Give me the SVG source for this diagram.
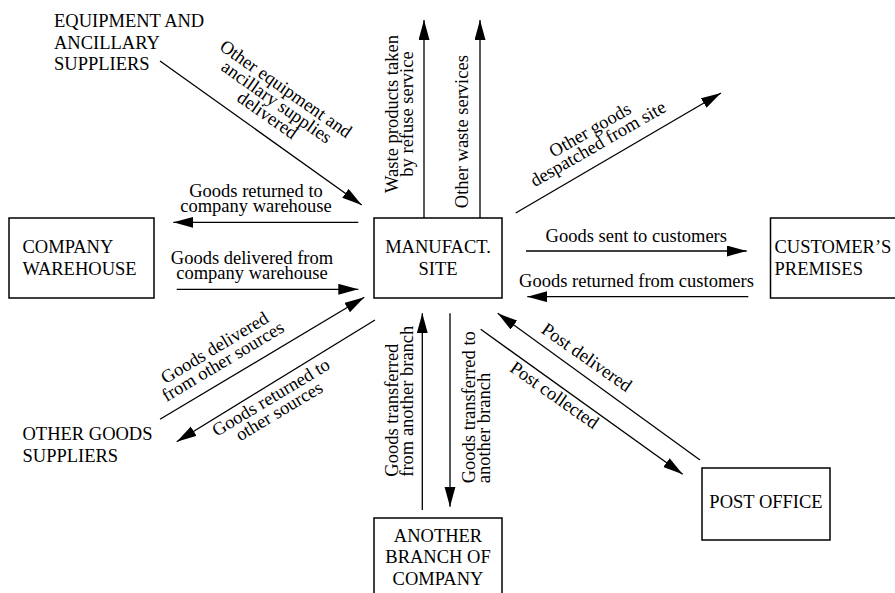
<svg xmlns="http://www.w3.org/2000/svg" width="895" height="593" viewBox="0 0 895 593">
<style>
text{font-family:"Liberation Serif","Times New Roman",serif;font-size:18.5px;fill:#000}
.m{text-anchor:middle}
.box{fill:#fff;stroke:#000;stroke-width:1.5}
.ln{stroke:#000;stroke-width:1.3;fill:none}
.arr{marker-end:url(#ah)}
</style>
<defs>
<marker id="ah" markerUnits="userSpaceOnUse" markerWidth="21" markerHeight="12" refX="20" refY="5.5" orient="auto">
<path d="M0,0 L20,5.5 L0,11 Z" fill="#000"/>
</marker>
</defs>

<g id="equipment-suppliers">
<text><tspan x="54" y="27">EQUIPMENT AND</tspan><tspan x="54" y="48.5">ANCILLARY</tspan><tspan x="54" y="70">SUPPLIERS</tspan></text>
</g>

<g id="company-warehouse">
<rect class="box" x="9" y="218" width="145" height="80"/>
<text><tspan x="22.5" y="253.3">COMPANY</tspan><tspan x="22.5" y="275">WAREHOUSE</tspan></text>
</g>

<g id="other-goods-suppliers">
<text><tspan x="22.5" y="440">OTHER GOODS</tspan><tspan x="22.5" y="462">SUPPLIERS</tspan></text>
</g>

<g id="manufact-site">
<rect class="box" x="374" y="218" width="128" height="80"/>
<text class="m"><tspan x="438" y="253.3">MANUFACT.</tspan><tspan x="438" y="275">SITE</tspan></text>
</g>

<g id="customers-premises">
<rect class="box" x="770.5" y="218" width="140" height="80"/>
<text><tspan x="774.5" y="253.3">CUSTOMER’S</tspan><tspan x="774.5" y="275">PREMISES</tspan></text>
</g>

<g id="another-branch">
<rect class="box" x="374" y="518" width="128" height="90"/>
<text class="m"><tspan x="438" y="541.7">ANOTHER</tspan><tspan x="438" y="563.3">BRANCH OF</tspan><tspan x="438" y="585">COMPANY</tspan></text>
</g>

<g id="post-office">
<rect class="box" x="702" y="468" width="128" height="72"/>
<text class="m" x="766" y="508.3">POST OFFICE</text>
</g>

<g id="connectors">
<line class="ln arr" x1="160" y1="61" x2="361.7" y2="205"/>
<line class="ln arr" x1="424" y1="218" x2="424" y2="20"/>
<line class="ln arr" x1="480" y1="218" x2="480" y2="20"/>
<line class="ln arr" x1="515.7" y1="213" x2="721" y2="93"/>
<line class="ln arr" x1="358.3" y1="222.3" x2="173.3" y2="222.3"/>
<line class="ln arr" x1="176.7" y1="289.3" x2="358.3" y2="289.3"/>
<line class="ln arr" x1="526" y1="251" x2="746.7" y2="251"/>
<line class="ln arr" x1="748.3" y1="296.7" x2="527.3" y2="296.7"/>
<line class="ln arr" x1="160" y1="419.3" x2="364.3" y2="297.3"/>
<line class="ln arr" x1="375" y1="320" x2="176.7" y2="441.7"/>
<line class="ln arr" x1="422.3" y1="510" x2="422.3" y2="313.3"/>
<line class="ln arr" x1="450" y1="313.3" x2="450" y2="506.7"/>
<line class="ln arr" x1="700" y1="460" x2="497.7" y2="313.3"/>
<line class="ln arr" x1="480.7" y1="329.3" x2="682.7" y2="474.3"/>

<text class="m" transform="translate(264,120) rotate(35)"><tspan x="0" y="-32">Other equipment and</tspan><tspan x="0" y="-16">ancillary supplies</tspan><tspan x="0" y="0">delivered</tspan></text>
<text class="m" transform="translate(398.3,114) rotate(-90)"><tspan x="0" y="0">Waste products taken</tspan><tspan x="0" y="15">by refuse service</tspan></text>
<text class="m" transform="translate(468.3,131.7) rotate(-90)">Other waste services</text>
<text class="m" transform="translate(601,149) rotate(-30)"><tspan x="0" y="-16">Other goods</tspan><tspan x="0" y="0">despatched from site</tspan></text>
<text class="m"><tspan x="256" y="197.3">Goods returned to</tspan><tspan x="256" y="211.7">company warehouse</tspan></text>
<text class="m"><tspan x="252" y="264">Goods delivered from</tspan><tspan x="252" y="279.3">company warehouse</tspan></text>
<text class="m" x="636.3" y="241.7">Goods sent to customers</text>
<text class="m" x="636.5" y="286.7">Goods returned from customers</text>
<text class="m" transform="translate(226,366.5) rotate(-31)"><tspan x="0" y="-16">Goods delivered</tspan><tspan x="0" y="0">from other sources</tspan></text>
<text class="m" transform="translate(274,402.5) rotate(-31)"><tspan x="0" y="0">Goods returned to</tspan><tspan x="0" y="16">other sources</tspan></text>
<text transform="translate(397.7,476.7) rotate(-90)"><tspan x="0" y="0">Goods transferred</tspan><tspan x="0" y="15.6">from another branch</tspan></text>
<text transform="translate(475,483.3) rotate(-90)"><tspan x="0" y="0">Goods transferred to</tspan><tspan x="0" y="15">another branch</tspan></text>
<text class="m" transform="translate(583.3,362.3) rotate(35)">Post delivered</text>
<text class="m" transform="translate(551,400) rotate(35)">Post collected</text>
</g>
</svg>
